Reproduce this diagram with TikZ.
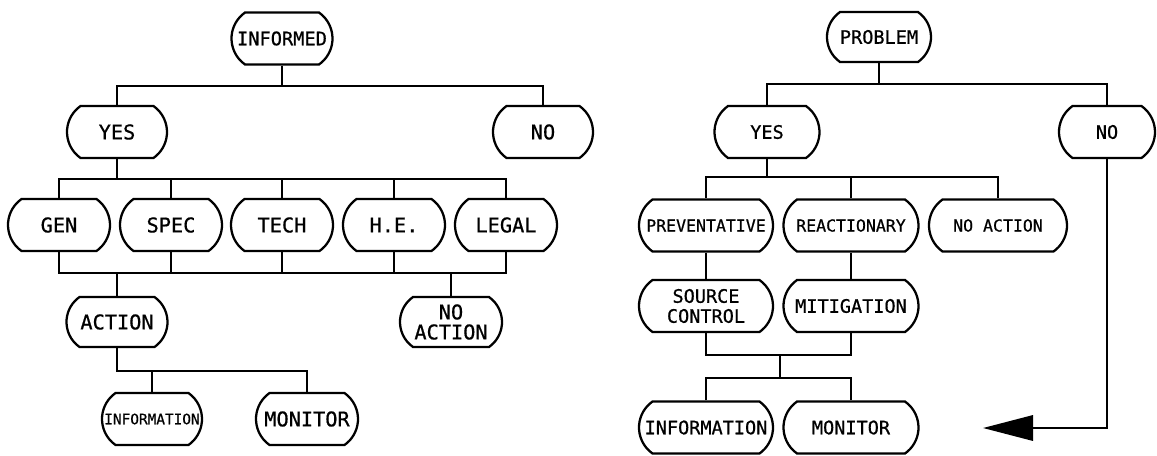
\documentclass[tikz,border=0pt]{standalone}
\usepackage{fontspec}
\newfontfamily\plotfont[BoldFont={DejaVu Sans Mono},BoldFeatures={FakeBold=0.7}]{DejaVu Sans Mono}
\usetikzlibrary{shapes.misc,arrows.meta}
\begin{document}
\begin{tikzpicture}[x=0.75pt,y=-0.75pt,
  line width=1.7pt,
  box/.style={draw, rounded rectangle, rounded rectangle arc length=110,
    inner sep=0pt, minimum height={52*0.75pt}, minimum width={#1*0.75pt}, align=center},
  box/.default=102,
  fL/.style={font=\plotfont\bfseries\fontsize{15.2}{15}\selectfont},
  fLa/.style={font=\plotfont\bfseries\fontsize{14}{15}\selectfont},
  fLs/.style={font=\plotfont\bfseries\fontsize{10.8}{12}\selectfont},
  fR/.style={font=\plotfont\bfseries\fontsize{13.9}{15}\selectfont},
  fRs/.style={font=\plotfont\bfseries\fontsize{12.4}{14}\selectfont},
  tip/.style={-{Triangle[length=37.5pt,width=19pt]}}
]
\useasboundingbox (0,0) rectangle (1157,455);

% ---------- left tree ----------
\node[box=101,fLa] (inf) at (282,38.5) {INFORMED};
\node[box=100,fL] (yes1) at (117,132) {YES};
\node[box=100,fL] (no1) at (543,132) {NO};
\node[box,fL] (gen) at (59,225) {GEN};
\node[box,fL] (spec) at (171,225) {SPEC};
\node[box,fL] (tech) at (282,225) {TECH};
\node[box,fL] (he) at (394,225) {H.E.};
\node[box,fL] (legal) at (506,225) {LEGAL};
\node[box=101,fL,minimum height={50*0.75pt}] (action) at (117,322) {ACTION};
\node[box=102,fL,minimum height={50*0.75pt}] (noact1) at (451,322) {NO\\ACTION};
\node[box=100,fLs] (info1) at (152,419) {INFORMATION};
\node[box=102,fL] (mon1) at (307,419) {MONITOR};

\coordinate (j1) at (282,86);
\draw (inf.south) -- (j1);
\draw (yes1.north) -- (yes1.north |- j1) -- (no1.north |- j1) -- (no1.north);

\coordinate (j2) at (117,179);
\draw (yes1.south) -- (j2);
\draw (gen.north) -- (gen.north |- j2) -- (legal.north |- j2) -- (legal.north);
\foreach \n in {spec,tech,he} \draw (\n.north) -- (\n.north |- j2);

\coordinate (j3) at (282,273);
\draw (gen.south) -- (gen.south |- j3) -- (legal.south |- j3) -- (legal.south);
\foreach \n in {spec,tech,he} \draw (\n.south) -- (\n.south |- j3);
\draw (action.north) -- (action.north |- j3);
\draw (noact1.north) -- (noact1.north |- j3);

\coordinate (j4) at (117,371);
\draw (action.south) -- (j4) -- (mon1.north |- j4) -- (mon1.north);
\draw (info1.north) -- (info1.north |- j4);

% ---------- right tree ----------
\node[box=104,fR,minimum height={50*0.75pt}] (prob) at (879,37) {PROBLEM};
\node[box=105,fR] (yes2) at (767,132) {YES};
\node[box=96,fR] (no2) at (1107,132) {NO};
\node[box=134,fRs] (prev) at (706,225.5) {PREVENTATIVE};
\node[box=135,fRs] (react) at (851,225.5) {REACTIONARY};
\node[box=138,fRs] (noact2) at (998,225.5) {NO ACTION};
\node[box=134,fR] (src) at (706,306) {SOURCE\\CONTROL};
\node[box=135,fR] (mit) at (851,306) {MITIGATION};
\node[box=134,fR] (info2) at (706,427.5) {INFORMATION};
\node[box=135,fR] (mon2) at (851,427.5) {MONITOR};

\coordinate (k1) at (879,84);
\draw (prob.south) -- (k1);
\draw (yes2.north) -- (yes2.north |- k1) -- (no2.north |- k1) -- (no2.north);

\coordinate (k2) at (767,177);
\draw (yes2.south) -- (k2);
\draw (prev.north) -- (prev.north |- k2) -- (noact2.north |- k2) -- (noact2.north);
\draw (react.north) -- (react.north |- k2);

\draw (prev.south) -- (src.north);
\draw (react.south) -- (mit.north);

\coordinate (k3) at (780,355);
\draw (src.south) -- (src.south |- k3) -- (mit.south |- k3) -- (mit.south);
\coordinate (k4) at (780,378);
\draw (k3) -- (k4);
\draw (info2.north) -- (info2.north |- k4) -- (mon2.north |- k4) -- (mon2.north);

\coordinate (arrtip) at (983,428);
\draw[tip] (no2.south) |- (arrtip);
\end{tikzpicture}
\end{document}
